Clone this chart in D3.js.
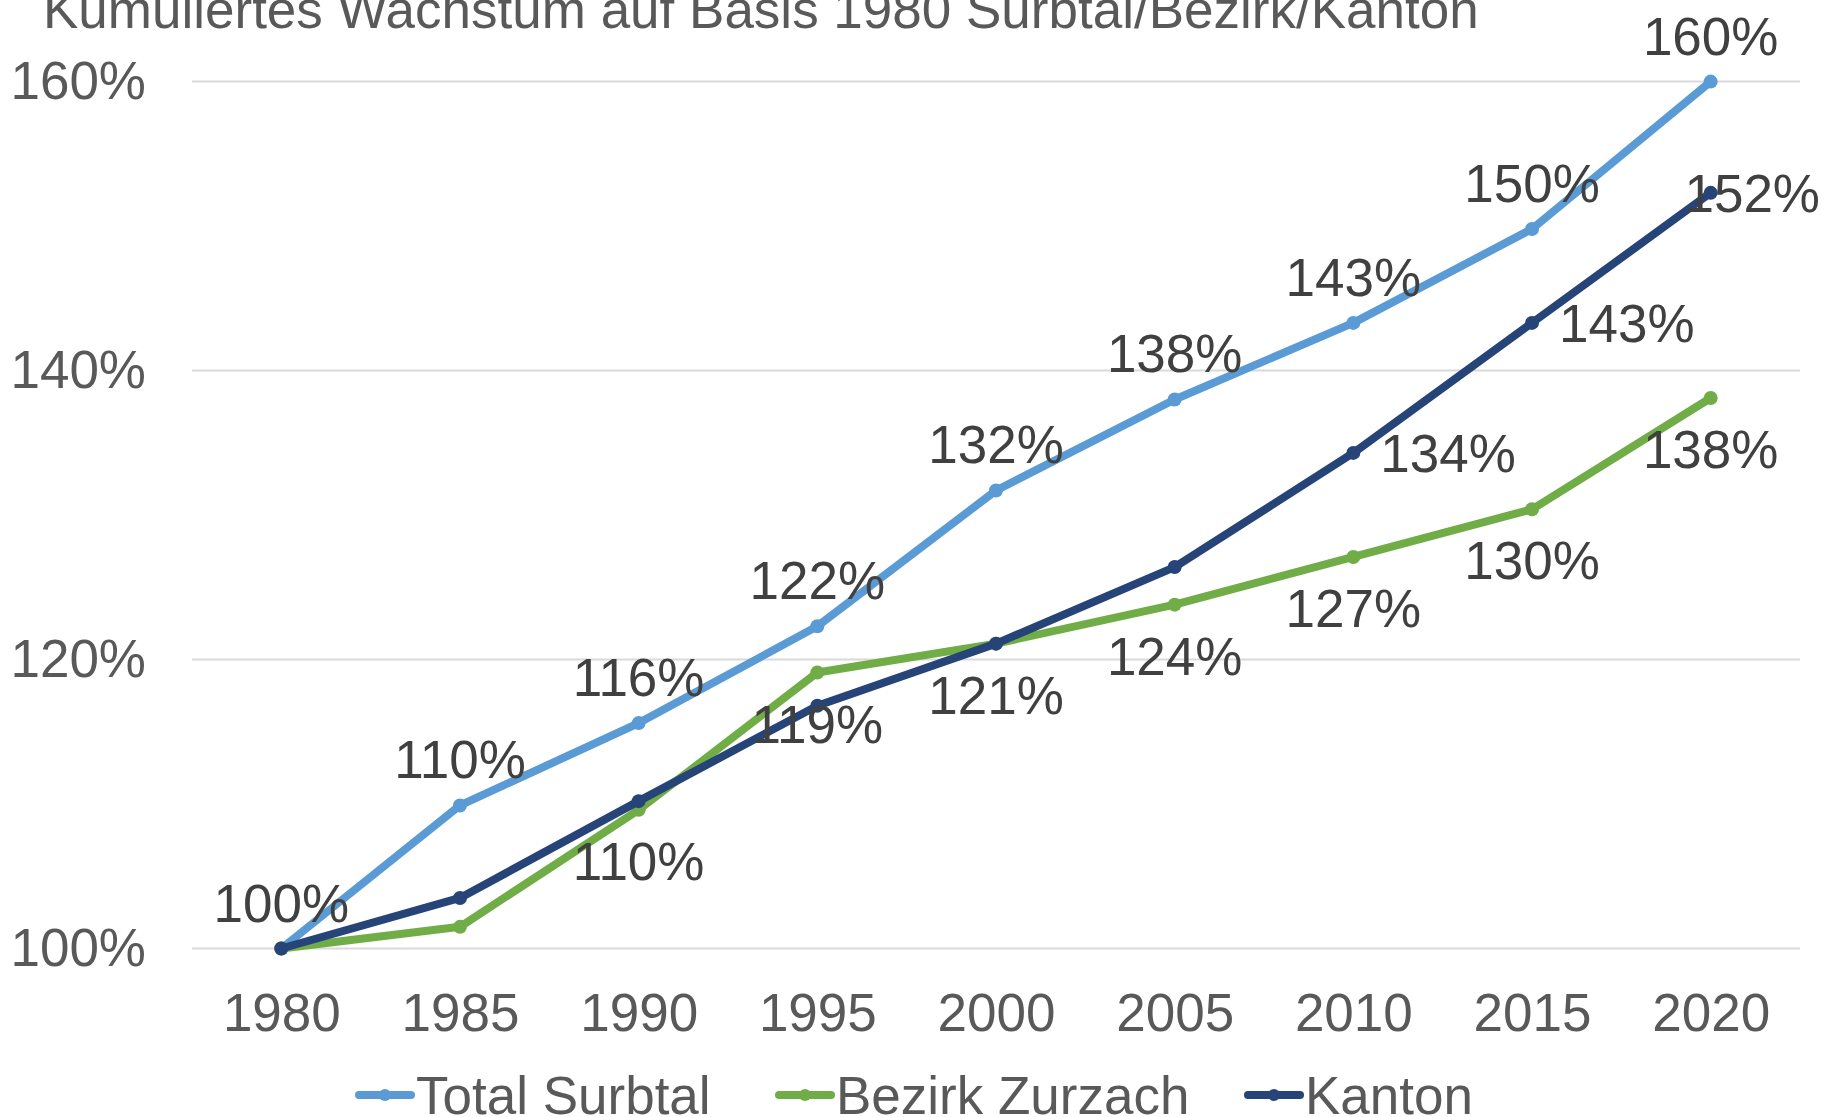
<!DOCTYPE html>
<html>
<head>
<meta charset="utf-8">
<script src="https://cdn.jsdelivr.net/npm/d3@7"></script>
<style>
  html, body { margin: 0; padding: 0; background: #fff; }
  text { font-family: "Liberation Sans", Arial, sans-serif; }
</style>
</head>
<body>
<div id="chart"></div>
<script>
// data
var years = ["1980", "1985", "1990", "1995", "2000", "2005", "2010", "2015", "2020"];
var totalSurbtal = [100, 109.9, 115.6, 122.3, 131.7, 138.0, 143.3, 149.8, 160.0];
var bezirkZurzach = [100, 101.5, 109.6, 119.1, 121.1, 123.8, 127.1, 130.4, 138.1];
var kanton = [100, 103.5, 110.2, 116.8, 121.1, 126.4, 134.3, 143.3, 152.3];
var yTicks = [100, 120, 140, 160];
var seriesNames = ["Total Surbtal", "Bezirk Zurzach", "Kanton"];
// which years carry a value label
var totalLabelYears = ["1980", "1985", "1990", "1995", "2000", "2005", "2010", "2015", "2020"];
var bezirkLabelYears = ["1990", "1995", "2000", "2005", "2010", "2015", "2020"];
var kantonLabelYears = ["2010", "2015", "2020"];

var width = 1827, height = 1117;
var fontSize = 53;

var series = [
  { name: seriesNames[0], values: totalSurbtal, color: "#5B9BD5", labels: totalLabelYears, pos: "above" },
  { name: seriesNames[1], values: bezirkZurzach, color: "#70AD47", labels: bezirkLabelYears, pos: "below" },
  { name: seriesNames[2], values: kanton, color: "#264478", labels: kantonLabelYears, pos: "right" }
];

var svg = d3.select("#chart").append("svg")
  .attr("width", width)
  .attr("height", height);

var x = d3.scalePoint()
  .domain(years)
  .range([192, 1800])
  .padding(0.5);

var y = d3.scaleLinear()
  .domain([100, 160])
  .range([948.5, 81.6]);

// title (cut off at the top like in the original)
svg.append("text")
  .attr("x", 43)
  .attr("y", 28)
  .attr("fill", "#595959")
  .style("font-size", fontSize + "px")
  .text("Kumuliertes Wachstum auf Basis 1980 Surbtal/Bezirk/Kanton");

// gridlines
svg.append("g")
  .selectAll("line")
  .data(yTicks)
  .enter()
  .append("line")
  .attr("x1", 192)
  .attr("x2", 1800)
  .attr("y1", function (d) { return y(d); })
  .attr("y2", function (d) { return y(d); })
  .attr("stroke", "#D9D9D9")
  .attr("stroke-width", 2);

// y axis
var yAxis = svg.append("g")
  .attr("transform", "translate(160,0)")
  .call(d3.axisLeft(y).tickValues(yTicks).tickSize(0).tickPadding(14)
    .tickFormat(function (d) { return d + "%"; }));
yAxis.select(".domain").remove();
yAxis.selectAll("text")
  .attr("fill", "#595959")
  .style("font-size", fontSize + "px")
  .style("font-family", "'Liberation Sans', Arial, sans-serif");

// x axis
var xAxis = svg.append("g")
  .attr("transform", "translate(0," + y(100) + ")")
  .call(d3.axisBottom(x).tickSize(0).tickPadding(45));
xAxis.select(".domain").remove();
xAxis.selectAll("text")
  .attr("fill", "#595959")
  .style("font-size", fontSize + "px")
  .style("font-family", "'Liberation Sans', Arial, sans-serif");

var line = d3.line()
  .x(function (d, i) { return x(years[i]); })
  .y(function (d) { return y(d); });

// lines + markers
series.forEach(function (s) {
  svg.append("path")
    .datum(s.values)
    .attr("d", line)
    .attr("fill", "none")
    .attr("stroke", s.color)
    .attr("stroke-width", 8)
    .attr("stroke-linejoin", "round")
    .attr("stroke-linecap", "round");
  svg.append("g")
    .selectAll("circle")
    .data(s.values)
    .enter()
    .append("circle")
    .attr("cx", function (d, i) { return x(years[i]); })
    .attr("cy", function (d) { return y(d); })
    .attr("r", 7)
    .attr("fill", s.color);
});

// value labels
series.forEach(function (s) {
  s.values.forEach(function (v, i) {
    if (s.labels.indexOf(years[i]) < 0) return;
    var px = x(years[i]), py = y(v);
    var t = svg.append("text")
      .attr("fill", "#404040")
      .style("font-size", fontSize + "px")
      .text(Math.round(v) + "%");
    if (s.pos == "above") {
      t.attr("x", px).attr("y", py - 27).attr("text-anchor", "middle");
    } else if (s.pos == "below") {
      t.attr("x", px).attr("y", py + 70).attr("text-anchor", "middle");
    } else {
      var w = t.node().getComputedTextLength();
      var lx = px + 27;
      if (lx + w > width - 7) lx = width - 7 - w; // keep inside the chart
      t.attr("x", lx).attr("y", py + 19);
    }
  });
});

// legend
var legendX = [355, 775, 1244];
var legendY = 1095;
var legend = svg.selectAll(".legend")
  .data(series)
  .enter()
  .append("g")
  .attr("class", "legend")
  .attr("transform", function (d, i) { return "translate(" + legendX[i] + "," + legendY + ")"; });
legend.append("line")
  .attr("x1", 4).attr("x2", 56)
  .attr("y1", 0).attr("y2", 0)
  .attr("stroke", function (d) { return d.color; })
  .attr("stroke-width", 8)
  .attr("stroke-linecap", "round");
legend.append("circle")
  .attr("cx", 30).attr("cy", 0).attr("r", 6)
  .attr("fill", function (d) { return d.color; });
legend.append("text")
  .attr("x", 61)
  .attr("y", 19)
  .attr("fill", "#595959")
  .style("font-size", fontSize + "px")
  .text(function (d) { return d.name; });
</script>
</body>
</html>
